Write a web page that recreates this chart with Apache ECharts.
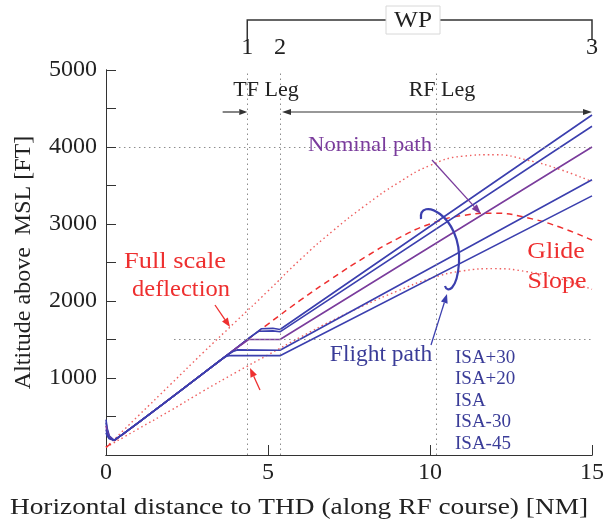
<!DOCTYPE html>
<html>
<head>
<meta charset="utf-8">
<script src="https://cdn.jsdelivr.net/npm/echarts@6/dist/echarts.min.js"></script>
<style>
  html, body { margin: 0; padding: 0; background: #fff; }
  #chart { width: 607px; height: 523px; }
</style>
</head>
<body>
<div id="chart"></div>
<script>
// values: [distance NM, altitude FT]
const seriesNames = ['ISA+30', 'ISA+20', 'ISA', 'ISA-30', 'ISA-45'];
const isaP30 = [[0, 460], [0.04, 340], [0.1, 250], [0.25, 190], [0.5, 265], [1, 420], [2, 740], [3, 1060], [4, 1380], [4.5, 1545], [4.8, 1640], [5.15, 1645], [5.37, 1630], [15, 4416]];
const isaP20 = [[0, 420], [0.04, 320], [0.1, 240], [0.25, 190], [0.5, 265], [1, 420], [2, 740], [3, 1060], [4, 1380], [4.45, 1530], [4.72, 1608], [5.15, 1612], [5.37, 1600], [15, 4270]];
const isa = [[0, 380], [0.04, 295], [0.1, 230], [0.25, 190], [0.5, 265], [1, 420], [2, 740], [3, 1060], [4, 1380], [4.4, 1500], [5.37, 1500], [15, 4000]];
const isaM30 = [[0, 330], [0.04, 270], [0.1, 220], [0.25, 190], [0.5, 265], [1, 420], [2, 740], [3, 1060], [3.75, 1300], [3.9, 1340], [4.05, 1365], [5.37, 1360], [15, 3575]];
const isaM45 = [[0, 290], [0.04, 245], [0.1, 210], [0.25, 190], [0.5, 265], [1, 420], [2, 740], [3, 1060], [3.6, 1255], [3.72, 1282], [3.85, 1292], [5.37, 1290], [15, 3365]];
const glideSlope = [[0, 100], [1, 420], [2, 740], [3, 1060], [4, 1380], [5, 1700], [6, 2010], [7, 2300], [8, 2570], [9, 2810], [10, 3000], [11, 3110], [12, 3140], [13, 3080], [14, 2960], [15, 2790]];
const fsdUpper = [[0, 100], [1, 510], [2, 920], [3, 1330], [4, 1730], [5, 2130], [6, 2540], [7, 2910], [8, 3240], [9, 3530], [10, 3760], [11, 3880], [12, 3900], [13, 3830], [14, 3710], [15, 3550]];
const fsdLower = [[0, 100], [1, 340], [2, 580], [3, 830], [4, 1070], [5, 1300], [6, 1530], [7, 1750], [8, 1950], [9, 2130], [10, 2290], [11, 2390], [12, 2420], [13, 2380], [14, 2290], [15, 2150]];
const wpDist = [4.36, 5.37, 15];
const wpLabels = ['1', '2', '3'];
const refX = [4.36, 5.37, 10.2];
const refY = [[0.4, 4000], [2.1, 1500]];

const FONT = '"Liberation Serif", "DejaVu Serif", serif';
const BLUE = '#3b3fae';
const PURPLE = '#7a3c9c';
const RED = '#ee2f2f';
const TXTBLUE = '#3a3c98';
const TICK = 5;

const chart = echarts.init(document.getElementById('chart'));

function pathSeries(name, data, color) {
  return {
    name: name, type: 'line', data: data, showSymbol: false, z: 4,
    lineStyle: { color: color, width: 1.6 }, animation: false
  };
}

// extra axis only for the tick marks: pushed into the plot so outward ticks end on the frame
function tickAxis(pos, max, step) {
  return {
    type: 'value', min: 0, max: max, interval: step, position: pos, offset: -TICK,
    axisLine: { show: false }, splitLine: { show: false }, axisLabel: { show: false },
    axisTick: { show: true, inside: false, length: TICK, lineStyle: { color: '#333' } }
  };
}

const frameLine = { show: true, lineStyle: { color: '#333', width: 1 } };

const option = {
  animation: false,
  backgroundColor: '#fff',
  grid: { left: 106, right: 12, top: 70, bottom: 68 },
  xAxis: [
    {
      type: 'value', min: 0, max: 15, interval: 5, position: 'bottom',
      axisLine: frameLine, axisTick: { show: false }, splitLine: { show: false },
      axisLabel: { color: '#222', fontFamily: FONT, fontSize: 24, margin: 6 }
    },
    {
      type: 'value', min: 0, max: 15, interval: 5, position: 'top',
      axisLine: frameLine, axisTick: { show: false }, splitLine: { show: false },
      axisLabel: { show: false }
    },
    tickAxis('bottom', 15, 5),
    tickAxis('top', 15, 5)
  ],
  yAxis: [
    {
      type: 'value', min: 0, max: 5000, interval: 1000, position: 'left',
      axisLine: frameLine, axisTick: { show: false }, splitLine: { show: false },
      axisLabel: { color: '#222', fontFamily: FONT, fontSize: 24, margin: 9,
        formatter: v => (v === 0 ? '' : String(v)) },
      name: 'Altitude above  MSL [FT]', nameLocation: 'middle', nameGap: 70,
      nameTextStyle: { color: '#222', fontFamily: FONT, fontSize: 24 }
    },
    {
      type: 'value', min: 0, max: 5000, interval: 1000, position: 'right',
      axisLine: frameLine, axisTick: { show: false }, splitLine: { show: false },
      axisLabel: { show: false }
    },
    tickAxis('left', 5000, 500),
    tickAxis('right', 5000, 500)
  ],
  series: [
    {
      name: 'Full scale deflection upper', type: 'line', data: fsdUpper, showSymbol: false, smooth: true, z: 2,
      lineStyle: { color: '#ee6060', width: 1.4, type: [1.5, 3] },
      markLine: {
        silent: true, symbol: 'none', label: { show: false }, animation: false,
        lineStyle: { color: '#8c8c8c', width: 1, type: [1.5, 3.5] },
        data: refX.map(v => ({ xAxis: v }))
          .concat(refY.map(p => [{ coord: p }, { coord: [15, p[1]] }]))
      }
    },
    {
      name: 'Full scale deflection lower', type: 'line', data: fsdLower, showSymbol: false, smooth: true, z: 2,
      lineStyle: { color: '#ee6060', width: 1.4, type: [1.5, 3] }
    },
    {
      name: 'Glide Slope', type: 'line', data: glideSlope, showSymbol: false, smooth: true, z: 3,
      lineStyle: { color: RED, width: 1.5, type: [6, 4.5] }
    },
    pathSeries(seriesNames[0], isaP30, BLUE),
    pathSeries(seriesNames[1], isaP20, BLUE),
    pathSeries(seriesNames[2], isa, PURPLE),
    pathSeries(seriesNames[3], isaM30, BLUE),
    pathSeries(seriesNames[4], isaM45, BLUE)
  ]
};

chart.setOption(option);

const xPx = v => chart.convertToPixel({ xAxisIndex: 0 }, v);

function text(str, x, y, color, size, align, sx) {
  return {
    type: 'text', x: x, y: y, silent: true, z: 10, scaleX: sx || 1,
    style: { text: str, fill: color, font: size + 'px ' + FONT,
      textAlign: align || 'center', textVerticalAlign: 'middle' }
  };
}

function arrow(x1, y1, x2, y2, color, lw, hl, hw) {
  const a = Math.atan2(y2 - y1, x2 - x1);
  const bx = x2 - hl * Math.cos(a), by = y2 - hl * Math.sin(a);
  const px = -Math.sin(a) * hw, py = Math.cos(a) * hw;
  return [
    { type: 'line', silent: true, z: 10, shape: { x1: x1, y1: y1, x2: bx, y2: by },
      style: { stroke: color, lineWidth: lw } },
    { type: 'polygon', silent: true, z: 10,
      shape: { points: [[x2, y2], [bx + px, by + py], [bx - px, by - py]] },
      style: { fill: color } }
  ];
}

const wpX = wpDist.map(xPx);
const legY = 112;
const bracketY = 20;
const wpMid = 413;

const graphics = [
  // WP bracket
  { type: 'polyline', silent: true, z: 10,
    shape: { points: [[wpX[0], 40], [wpX[0], bracketY], [wpX[2], bracketY], [wpX[2], 40]] },
    style: { stroke: '#333', lineWidth: 1.5, fill: null } },
  { type: 'rect', silent: true, z: 11, shape: { x: wpMid - 27, y: bracketY - 14, width: 54, height: 28 },
    style: { fill: '#fff', stroke: '#d8d8d8', lineWidth: 1 } },
  Object.assign(text('WP', wpMid, bracketY + 1, '#222', 23, 'center', 1.1), { z: 12 }),
  // TF / RF legs
  text('TF Leg', 266, 90, '#222', 22),
  text('RF Leg', 442, 90, '#222', 22),
  ...arrow(xPx(3.6), legY, wpX[0], legY, '#333', 1.2, 8, 3),
  ...arrow(440, legY, wpX[1] + 2, legY, '#333', 1.2, 9, 3),
  ...arrow(440, legY, wpX[2], legY, '#333', 1.2, 9, 3),
  // annotations
  text('Nominal path', 370, 145, PURPLE, 22, 'center', 1.03),
  ...arrow(432, 160, 481, 214, PURPLE, 1.3, 10, 3.5),
  text('Glide', 556, 252, RED, 24, 'center', 1.08),
  text('Slope', 557, 282, RED, 24, 'center', 1.08),
  text('Full scale', 175, 262, RED, 24, 'center', 1.1),
  text('deflection', 181, 290, RED, 24, 'center', 1.02),
  ...arrow(215, 305, 230, 327, RED, 1.3, 9, 3.5),
  ...arrow(260, 390, 250, 368, RED, 1.3, 9, 3.5),
  text('Flight path', 381, 355, TXTBLUE, 23, 'center', 1.02),
  ...arrow(431, 345, 447, 294, BLUE, 1.3, 9, 3.5),
  { type: 'bezierCurve', silent: true, z: 10,
    shape: { x1: 421, y1: 219, cpx1: 418, cpy1: 196, cpx2: 462, cpy2: 214, x2: 459, y2: 263 },
    style: { stroke: BLUE, lineWidth: 2.2, fill: null } },
  { type: 'bezierCurve', silent: true, z: 10,
    shape: { x1: 459, y1: 263, cpx1: 457, cpy1: 291, cpx2: 447, cpy2: 293, x2: 445, y2: 286 },
    style: { stroke: BLUE, lineWidth: 2.2, fill: null } },
  // x axis title
  text('Horizontal distance to THD (along RF course) [NM]', 299, 508, '#222', 24, 'center', 1.14)
];

wpLabels.forEach((lab, i) => graphics.push(text(lab, wpX[i], 48, '#222', 23, 'center', 1.05)));
seriesNames.forEach((n, i) => graphics.push(text(n, 455, 358 + i * 21.5, TXTBLUE, 19, 'left')));

chart.setOption({ graphic: { elements: graphics } });
</script>
</body>
</html>
